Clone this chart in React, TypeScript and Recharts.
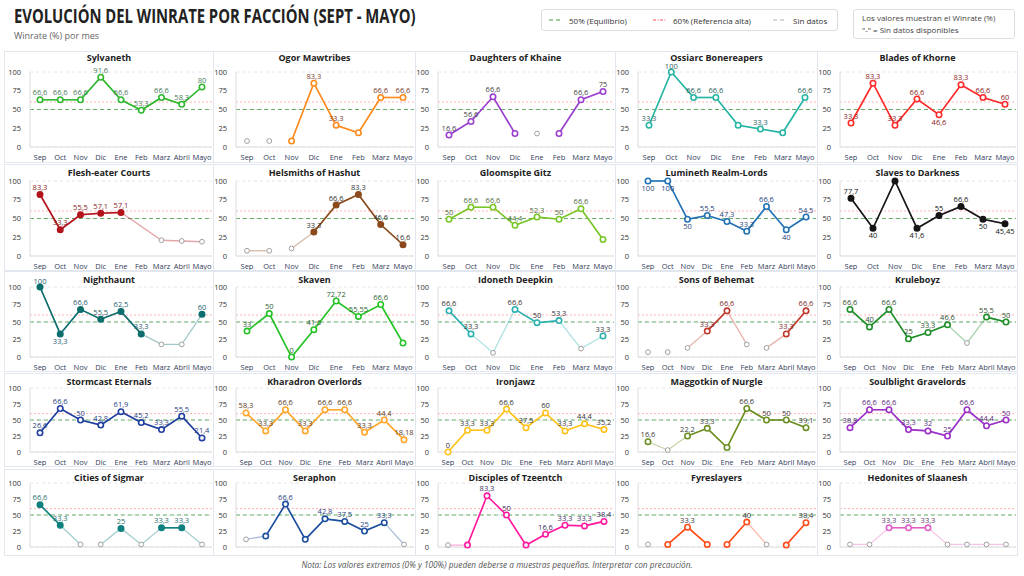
import React from 'react';
import { LineChart, Line, XAxis, YAxis, CartesianGrid, ReferenceLine, LabelList } from 'recharts';

// meses por panel
const M9 = ['Sep', 'Oct', 'Nov', 'Dic', 'Ene', 'Feb', 'Marz', 'Abril', 'Mayo'];
const M8 = ['Sep', 'Oct', 'Nov', 'Dic', 'Ene', 'Feb', 'Marz', 'Mayo'];
const Y_TICKS = [0, 25, 50, 75, 100];

// winrate dibujado (null = sin punto) y etiqueta mostrada
const sylvaneth = [63, 63, 63, 93, 63, 49, 66, 57, 80];
const sylvanethLbl = ['66,6', '66,6', '66,6', '91,6', '66,6', '53,3', '66,6', '58,3', '80'];
const ogor = [8, 8, 8, 85, 29, 19, 66, 66];
const ogorLbl = ['', '', '', '83,3', '33,3', '', '66,6', '66,6'];
const daughters = [16, 34, 67, 18, 18, 18, 63, 74];
const daughtersLbl = ['16,6', '56,6', '66,6', '', '', '', '66,6', '75'];
const ossiarc = [29, 100, 66, 66, 29, 24, 19, 66];
const ossiarcLbl = ['33,3', '100', '66,6', '66,6', '', '33,3', '', '66,6'];
const blades = [32, 85, 29, 64, 43, 83, 66, 57];
const bladesLbl = ['33,3', '83,3', '33,3', '66,6', '46,6', '83,3', '66,6', '60'];

const flesh = [82, 35, 55, 57, 58, null, 21, 20, 19];
const fleshLbl = ['83,3', '33,3', '55,5', '57,1', '57,1', '', '', '', ''];
const helsmiths = [7, 7, 10, 32, 68, 82, 42, 15];
const helsmithsLbl = ['', '', '', '33,3', '66,6', '83,3', '46,6', '16,6'];
const gloomspite = [49, 65, 65, 41, 52, 49, 63, 22];
const gloomspiteLbl = ['50', '66,6', '66,6', '44,4', '52,3', '50', '66,6', ''];
const lumineth = [100, 100, 49, 54, 46, 33, 66, 35, 52];
const luminethLbl = ['100', '100', '50', '55,5', '47,3', '33,3', '66,6', '40', '54,5'];
const slaves = [77, 37, 100, 37, 54, 66, 49, 43];
const slavesLbl = ['77,7', '40', '', '41,6', '55', '66,6', '50', '45,45'];

const nighthaunt = [100, 33, 68, 54, 65, 33, 18, 18, 61];
const nighthauntLbl = ['100', '33,3', '66,6', '55,5', '62,5', '33,3', '', '', '60'];
const skaven = [37, 62, 0, 39, 80, 58, 75, 20];
const skavenLbl = ['33', '50', '0', '41,6', '72,72', '55,55', '66,6', ''];
const idoneth = [66, 33, 6, 68, 49, 52, 12, 30];
const idonethLbl = ['66,6', '33,3', '', '66,6', '50', '53,3', '', '33,3'];
const sons = [7, 7, 13, 37, 66, 18, 13, 33, 66];
const sonsLbl = ['', '', '', '33,3', '66,6', '', '', '33,3', '66,6'];
const kruleboyz = [68, 43, 68, 26, 35, 46, 20, 57, 50];
const kruleboyzLbl = ['66,6', '40', '66,6', '25', '33,3', '46,6', '', '55,5', '50'];

const stormcast = [30, 68, 50, 42, 63, 46, 35, 56, 22];
const stormcastLbl = ['26,6', '66,6', '50', '42,8', '61,9', '45,2', '33,3', '55,5', '21,4'];
const kharadron = [61, 33, 66, 33, 66, 66, 31, 50, 19];
const kharadronLbl = ['58,3', '33,3', '66,6', '33,3', '66,6', '66,6', '33,3', '44,4', '18,18'];
const ironjawz = [0, 34, 34, 67, 38, 61, 33, 44, 35];
const ironjawzLbl = ['0', '33,3', '33,3', '66,6', '37,5', '60', '33,3', '44,4', '35,2'];
const maggotkin = [16, 3, 25, 37, 7, 68, 50, 50, 38];
const maggotkinLbl = ['16,6', '', '22,2', '33,3', '', '66,6', '50', '50', '39,1'];
const soulblight = [38, 66, 66, 35, 33, 25, 66, 41, 50];
const soulblightLbl = ['38,8', '66,6', '66,6', '33,3', '32', '25', '66,6', '44,4', '50'];

const cities = [66, 34, 4, 4, 29, 4, 30, 30, 4];
const citiesLbl = ['66,6', '33,3', '', '', '25', '', '33,3', '33,3', ''];
const seraphon = [12, 17, 67, 12, 44, 40, 25, 38, 4];
const seraphonLbl = ['', '', '66,6', '', '42,8', '37,5', '25', '33,3', ''];
const disciples = [3, 3, 80, 50, 3, 20, 34, 33, 40];
const disciplesLbl = ['', '', '83,3', '50', '', '16,6', '33,3', '33,3', '38,4'];
const fyreslayers = [4, 4, 31, 4, 4, 39, 4, 3, 38];
const fyreslayersLbl = ['', '', '33,3', '', '', '40', '', '', '38,4'];
const hedonites = [4, 4, 30, 30, 30, 4, 4, 4, 4];
const hedonitesLbl = ['', '', '33,3', '33,3', '33,3', '', '', '', ''];

// nd = meses sin datos (gris), brk = sin línea tras ese índice, below = etiqueta debajo
const FACTIONS = [
  { name: 'Sylvaneth', months: M9, wr: sylvaneth, lbl: sylvanethLbl, nd: [], brk: [], below: [], color: '#2eb82e', lc: '#4a7a5c' },
  { name: 'Ogor Mawtribes', months: M8, wr: ogor, lbl: ogorLbl, nd: [0, 1], brk: [0, 1], below: [], color: '#ff8a1c', lc: '#7a3b2e' },
  { name: 'Daughters of Khaine', months: M8, wr: daughters, lbl: daughtersLbl, nd: [4], brk: [3, 4], below: [], color: '#9b3fd1', lc: '#444' },
  { name: 'Ossiarc Bonereapers', months: M8, wr: ossiarc, lbl: ossiarcLbl, nd: [], brk: [], below: [], color: '#26b5a5', lc: '#2f5f5a' },
  { name: 'Blades of Khorne', months: M8, wr: blades, lbl: bladesLbl, nd: [], brk: [], below: [4], color: '#ff2a2a', lc: '#8a2020' },
  { name: 'Flesh-eater Courts', months: M9, wr: flesh, lbl: fleshLbl, nd: [6, 7, 8], brk: [], below: [], color: '#b3141c', lc: '#8a1a1a', filled: true },
  { name: 'Helsmiths of Hashut', months: M8, wr: helsmiths, lbl: helsmithsLbl, nd: [0, 1, 2], brk: [1], below: [], color: '#8b4a1c', lc: '#333', filled: true },
  { name: 'Gloomspite Gitz', months: M8, wr: gloomspite, lbl: gloomspiteLbl, nd: [], brk: [], below: [], color: '#79c726', lc: '#4f6b3a' },
  { name: 'Lumineth Realm-Lords', months: M9, wr: lumineth, lbl: luminethLbl, nd: [], brk: [], below: [0, 1, 2, 7], color: '#2272b5', lc: '#1f3f7a' },
  { name: 'Slaves to Darkness', months: M8, wr: slaves, lbl: slavesLbl, nd: [], brk: [], below: [1, 3, 6, 7], color: '#151515', lc: '#111', filled: true },
  { name: 'Nighthaunt', months: M9, wr: nighthaunt, lbl: nighthauntLbl, nd: [6, 7], brk: [], below: [1], color: '#0e6e6e', lc: '#1f5f6f', filled: true },
  { name: 'Skaven', months: M8, wr: skaven, lbl: skavenLbl, nd: [], brk: [], below: [], color: '#27c227', lc: '#2f5f2f' },
  { name: 'Idoneth Deepkin', months: M8, wr: idoneth, lbl: idonethLbl, nd: [2, 6], brk: [], below: [], color: '#2bb0b0', lc: '#333' },
  { name: 'Sons of Behemat', months: M9, wr: sons, lbl: sonsLbl, nd: [0, 1, 2, 5, 6], brk: [0, 1, 5], below: [], color: '#c0392b', lc: '#7a2a2a' },
  { name: 'Kruleboyz', months: M9, wr: kruleboyz, lbl: kruleboyzLbl, nd: [6], brk: [], below: [], color: '#1f8f2a', lc: '#2f4f2f' },
  { name: 'Stormcast Eternals', months: M9, wr: stormcast, lbl: stormcastLbl, nd: [], brk: [], below: [], color: '#1f3f9f', lc: '#1f3f7f' },
  { name: 'Kharadron Overlords', months: M9, wr: kharadron, lbl: kharadronLbl, nd: [], brk: [], below: [], color: '#ffa62b', lc: '#5a3a1a' },
  { name: 'Ironjawz', months: M9, wr: ironjawz, lbl: ironjawzLbl, nd: [], brk: [], below: [], color: '#ffc21a', lc: '#333' },
  { name: 'Maggotkin of Nurgle', months: M9, wr: maggotkin, lbl: maggotkinLbl, nd: [1], brk: [], below: [], color: '#6b8e23', lc: '#3a3a3a' },
  { name: 'Soulblight Gravelords', months: M9, wr: soulblight, lbl: soulblightLbl, nd: [], brk: [], below: [], color: '#9b30c8', lc: '#5a2a7a' },
  { name: 'Cities of Sigmar', months: M9, wr: cities, lbl: citiesLbl, nd: [2, 3, 5, 8], brk: [2], below: [], color: '#0f8080', lc: '#1f6f6f', filled: true },
  { name: 'Seraphon', months: M9, wr: seraphon, lbl: seraphonLbl, nd: [0, 8], brk: [], below: [], color: '#1f4f9f', lc: '#1f3f7f' },
  { name: 'Disciples of Tzeentch', months: M9, wr: disciples, lbl: disciplesLbl, nd: [0], brk: [], below: [], color: '#ff1aa0', lc: '#3a2a5a' },
  { name: 'Fyreslayers', months: M9, wr: fyreslayers, lbl: fyreslayersLbl, nd: [0, 6], brk: [0, 3, 6], below: [], color: '#ff4d1a', lc: '#333' },
  { name: 'Hedonites of Slaanesh', months: M9, wr: hedonites, lbl: hedonitesLbl, nd: [0, 1, 5, 6, 7, 8], brk: [], below: [], color: '#e060c8', lc: '#5a3a6a' },
];

const COLS = [4, 213, 415, 615, 817, 1017];
const ROWS = [
  { top: 51, h: 112, pt: 21, ph: 75 },
  { top: 164, h: 107, pt: 17, ph: 75 },
  { top: 271, h: 101, pt: 16, ph: 70 },
  { top: 373, h: 94, pt: 15, ph: 65 },
  { top: 469, h: 87, pt: 14, ph: 64 },
];

const FONT = "'Open Sans', 'Noto Sans', sans-serif";

function Panel({ f, col, row }: any) {
  const left = COLS[col];
  const w = COLS[col + 1] - left + 1;
  const r = ROWS[row];
  const n = f.months.length;
  const ml = col === 0 ? 3 : 0;
  const plotW = w - 2 - ml - 22 - 1;
  const pad = Math.round(plotW / (2 * n));

  const segs: number[][] = [];
  let s = 0;
  for (let i = 0; i < n; i++) {
    if (f.brk.includes(i) || i === n - 1) {
      segs.push([s, i]);
      s = i + 1;
    }
  }

  const data = f.months.map((m: string, i: number) => {
    const v = f.wr[i];
    const d: any = { m, g: f.nd.includes(i) ? v : null, lv: v };
    segs.forEach(([a, b], k) => {
      const inSeg = i >= a && i <= b;
      d['f' + k] = inSeg ? v : null;
      d['s' + k] = inSeg && !f.nd.includes(i) ? v : null;
    });
    return d;
  });

  const last = row === 4;
  const axisH = last ? 2 : 14;
  const innerH = r.h - 2;
  const mb = Math.max(0, innerH - (r.pt - 1) - r.ph - axisH);

  const renderLabel = (p: any) => {
    const t = f.lbl[p.index];
    if (!t || p.y == null || p.x == null) return null;
    const below = f.below.includes(p.index);
    const up = f.wr[p.index] >= 95 ? 3 : 4.5;
    return (
      <text x={p.x} y={below ? p.y + 10 : p.y - up} textAnchor="middle" fontSize={7.5} fill={f.lc} fontFamily={FONT}>
        {t}
      </text>
    );
  };

  return (
    <div
      style={{
        position: 'absolute',
        left,
        top: r.top,
        width: w - 2,
        height: innerH,
        border: '1px solid #e2e6ee',
        background: '#fff',
      }}
    >
      <div
        style={{
          position: 'absolute',
          top: row === 0 ? 0 : 2,
          left: 0,
          width: '100%',
          textAlign: 'center',
          fontSize: 9,
          fontWeight: 700,
          color: '#222',
          fontFamily: FONT,
          lineHeight: '12px',
        }}
      >
        {f.name}
      </div>
      <LineChart
        width={w - 2}
        height={innerH}
        data={data}
        margin={{ top: r.pt - 1, right: 1, bottom: mb, left: ml }}
      >
        <CartesianGrid vertical={false} strokeDasharray="3 3" stroke="#e6e6e6" />
        <XAxis
          dataKey="m"
          interval={0}
          height={axisH}
          padding={{ left: pad, right: pad }}
          tick={last ? false : { fontSize: 7.5, fill: '#33405a', fontFamily: FONT }}
          tickLine={false}
          axisLine={{ stroke: '#dcdcdc' }}
          tickMargin={2}
        />
        <YAxis
          domain={[0, 100]}
          ticks={Y_TICKS}
          width={22}
          tick={{ fontSize: 7.5, fill: '#333', fontFamily: FONT }}
          tickLine={false}
          axisLine={{ stroke: '#dcdcdc' }}
          tickMargin={3}
        />
        <ReferenceLine y={50} stroke="#43a047" strokeDasharray="4 3" strokeWidth={0.8} />
        <ReferenceLine y={60} stroke="#ff5252" strokeDasharray="2 2" strokeOpacity={0.55} strokeWidth={0.8} />
        {segs.map((_, k) => (
          <Line
            key={'f' + k}
            dataKey={'f' + k}
            stroke={f.color}
            strokeOpacity={0.38}
            strokeWidth={1.3}
            dot={false}
            activeDot={false}
            connectNulls
            isAnimationActive={false}
          />
        ))}
        {segs.map((_, k) => (
          <Line
            key={'s' + k}
            dataKey={'s' + k}
            stroke={f.color}
            strokeWidth={1.6}
            dot={{ r: 2.7, fill: f.filled ? f.color : '#fff', stroke: f.color, strokeWidth: 1.6 }}
            activeDot={false}
            isAnimationActive={false}
          />
        ))}
        <Line
          dataKey="g"
          stroke="none"
          dot={{ r: 2.4, fill: '#fff', stroke: '#a0a0a0', strokeWidth: 1 }}
          activeDot={false}
          isAnimationActive={false}
        />
        <Line dataKey="lv" stroke="none" dot={false} activeDot={false} isAnimationActive={false}>
          <LabelList dataKey="lv" content={renderLabel} />
        </Line>
      </LineChart>
    </div>
  );
}

function LegendItem({ color, dash, text, x }: { color: string; dash: string; text: string; x: number }) {
  return (
    <div style={{ position: 'absolute', left: x, top: 0, height: 20, display: 'flex', alignItems: 'center', whiteSpace: 'nowrap' }}>
      <svg width={13} height={6} style={{ marginRight: 7 }}>
        <line x1={0} y1={3} x2={13} y2={3} stroke={color} strokeWidth={1.2} strokeDasharray={dash} />
      </svg>
      {text}
    </div>
  );
}

export default function App() {
  return (
    <div
      style={{
        position: 'absolute',
        left: 0,
        top: 0,
        width: 1024,
        height: 576,
        background: '#fff',
        fontFamily: FONT,
        overflow: 'hidden',
      }}
    >
      <div
        style={{
          position: 'absolute',
          left: 14,
          top: 3,
          fontWeight: 700,
          fontSize: 19,
          lineHeight: '26px',
          color: '#222',
          whiteSpace: 'nowrap',
          transform: 'scaleX(0.78)',
          transformOrigin: 'left top',
        }}
      >
        EVOLUCIÓN DEL WINRATE POR FACCIÓN (SEPT - MAYO)
      </div>
      <div style={{ position: 'absolute', left: 14, top: 30, fontSize: 9, lineHeight: '12px', color: '#666' }}>
        Winrate (%) por mes
      </div>

      <div
        style={{
          position: 'absolute',
          left: 541,
          top: 9,
          width: 297,
          height: 22,
          border: '1px solid #dedede',
          borderRadius: 3,
          fontSize: 8,
          color: '#333',
          boxSizing: 'border-box',
        }}
      >
        <LegendItem x={7} color="#43a047" dash="4 3" text="50% (Equilibrio)" />
        <LegendItem x={111} color="#ff5252" dash="3 1.5 1 1.5" text="60% (Referencia alta)" />
        <LegendItem x={231} color="#b0b0b0" dash="4 3" text="Sin datos" />
      </div>

      <div
        style={{
          position: 'absolute',
          left: 853,
          top: 9,
          width: 162,
          height: 30,
          border: '1px solid #dedede',
          borderRadius: 3,
          boxSizing: 'border-box',
          padding: '2px 8px',
          fontSize: 8,
          lineHeight: '12px',
          color: '#444',
          whiteSpace: 'nowrap',
        }}
      >
        <div>Los valores muestran el Winrate (%)</div>
        <div>"-" = Sin datos disponibles</div>
      </div>

      {FACTIONS.map((f, i) => (
        <Panel key={f.name} f={f} col={i % 5} row={Math.floor(i / 5)} />
      ))}

      <div
        style={{
          position: 'absolute',
          left: 0,
          width: 994,
          top: 559,
          textAlign: 'center',
          fontSize: 8.3,
          fontStyle: 'italic',
          color: '#555',
        }}
      >
        Nota: Los valores extremos (0% y 100%) pueden deberse a muestras pequeñas. Interpretar con precaución.
      </div>
    </div>
  );
}
